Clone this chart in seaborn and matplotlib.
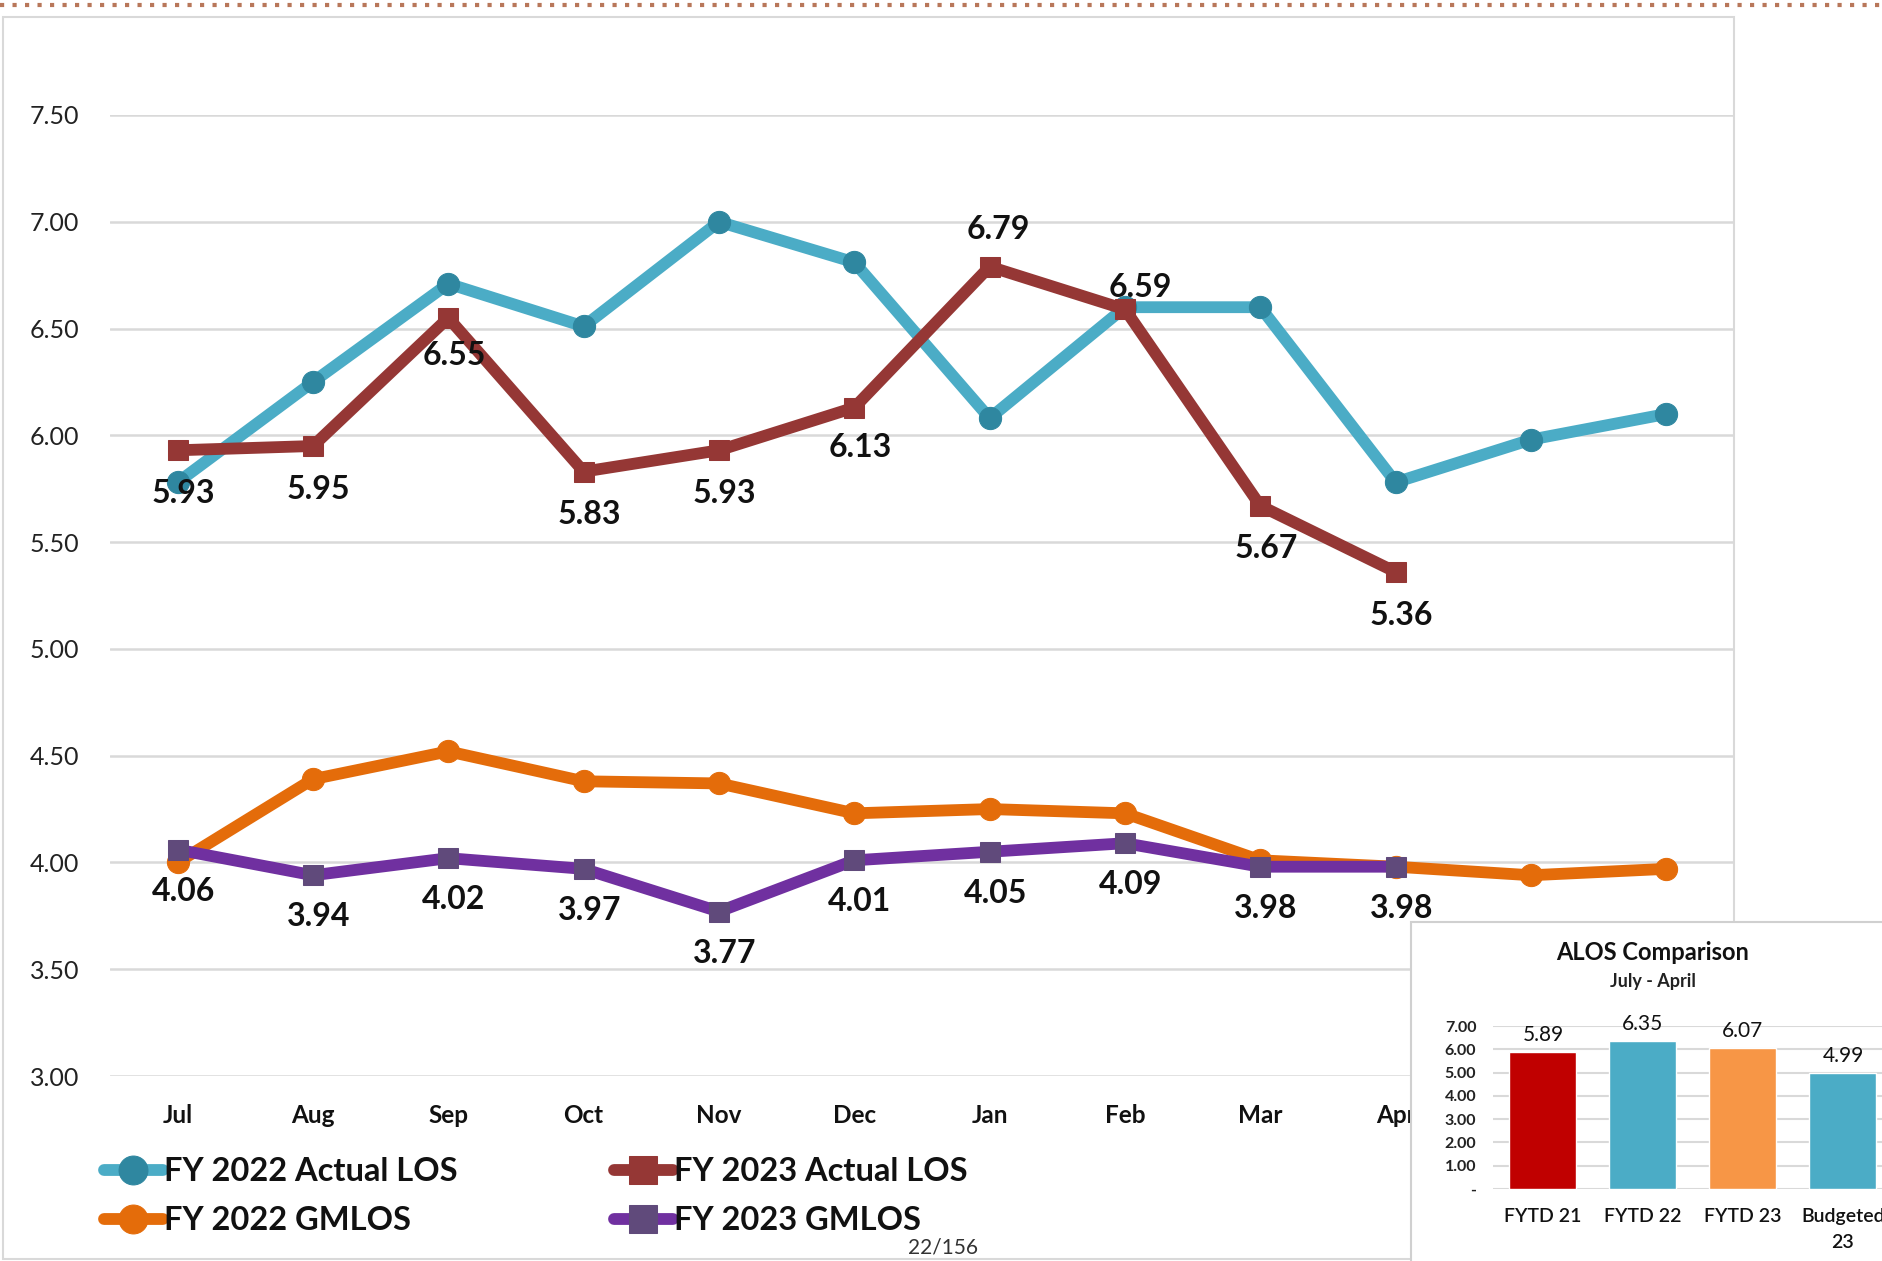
import numpy as np
import pandas as pd
import matplotlib
matplotlib.use('Agg')
import matplotlib.pyplot as plt
import seaborn as sns
from matplotlib.patches import Rectangle
from matplotlib.lines import Line2D

# ---- data ----
months = ['Jul', 'Aug', 'Sep', 'Oct', 'Nov', 'Dec', 'Jan', 'Feb', 'Mar', 'Apr', 'May', 'Jun']
fy22_actual = [5.78, 6.25, 6.71, 6.51, 7.00, 6.81, 6.08, 6.60, 6.60, 5.78, 5.98, 6.10]
fy23_actual = [5.93, 5.95, 6.55, 5.83, 5.93, 6.13, 6.79, 6.59, 5.67, 5.36]
fy22_gmlos = [4.00, 4.39, 4.52, 4.38, 4.37, 4.23, 4.25, 4.23, 4.01, 3.98, 3.94, 3.97]
fy23_gmlos = [4.06, 3.94, 4.02, 3.97, 3.77, 4.01, 4.05, 4.09, 3.98, 3.98]

alos_cats = ['FYTD 21', 'FYTD 22', 'FYTD 23', 'Budgeted\n23']
alos_vals = [5.89, 6.35, 6.07, 4.99]

# label offsets (points) for the FY 2023 actual labels: below except Jan/Feb
act_offsets = [(4, -31), (4, -31), (4, -27), (4, -31), (4, -31), (4, -29),
               (6, 27), (11, 16), (4, -31), (4, -31)]

sns.set_theme(style='white')
plt.rcParams['font.family'] = ['Lato', 'DejaVu Sans']

W, H = 1883, 1261
fig = plt.figure(figsize=(W / 100, H / 100), dpi=100)

def fx(px):
    return px / W

def fy(py):
    return 1 - py / H

# outer frame of the chart + dotted rule at the very top
fig.add_artist(Rectangle((fx(3), fy(1259)), fx(1734) - fx(3), fy(17) - fy(1259),
                         transform=fig.transFigure, fill=False, ec='#D9D9D9', lw=1.5, zorder=-1))
fig.add_artist(Line2D([0, 1], [fy(5), fy(5)], transform=fig.transFigure,
                      color='#B8775A', lw=3, ls=(0, (1, 2)), zorder=1))

ax = fig.add_axes([fx(110), fy(1076), fx(1734) - fx(110), fy(115) - fy(1076)])
ax.set_facecolor('none')

c_cyan, c_cyan_m = '#4BACC6', '#2F87A0'
c_red = '#953735'
c_orange = '#E46C0A'
c_purple, c_purple_m = '#7030A0', '#604A7B'

sns.lineplot(x=months, y=fy22_actual, ax=ax, sort=False, color=c_cyan, lw=8.5,
             marker='o', markersize=16, markerfacecolor=c_cyan_m, markeredgecolor=c_cyan_m,
             zorder=3)
sns.lineplot(x=months[:len(fy23_actual)], y=fy23_actual, ax=ax, sort=False, color=c_red, lw=8.5,
             marker='s', markersize=15, markerfacecolor=c_red, markeredgecolor=c_red, zorder=4)
sns.lineplot(x=months, y=fy22_gmlos, ax=ax, sort=False, color=c_orange, lw=8.5,
             marker='o', markersize=16, markerfacecolor=c_orange, markeredgecolor=c_orange,
             zorder=3)
sns.lineplot(x=months[:len(fy23_gmlos)], y=fy23_gmlos, ax=ax, sort=False, color=c_purple, lw=8.5,
             marker='s', markersize=15, markerfacecolor=c_purple_m, markeredgecolor=c_purple_m,
             zorder=4)

ax.set_xlim(-0.5, 11.5)
ax.set_ylim(3, 7.5)
ax.set_yticks(np.arange(3, 7.51, 0.5))
ax.set_yticklabels([f'{v:.2f}' for v in np.arange(3, 7.51, 0.5)], fontsize=18, color='#222222')
ax.set_xticks(range(len(months)))
ax.set_xticklabels(months, fontsize=17.5, fontweight='bold', color='#111111')
ax.tick_params(axis='y', length=0, pad=22)
ax.tick_params(axis='x', length=0, pad=20)
ax.set_xlabel('')
ax.set_ylabel('')
ax.grid(axis='y', color='#D9D9D9', lw=1.8)
ax.grid(axis='x', visible=False)
for s in ax.spines.values():
    s.set_visible(False)

for i, v in enumerate(fy23_actual):
    dx, dy = act_offsets[i]
    ax.annotate(f'{v:.2f}', xy=(i, v), xytext=(dx, dy), textcoords='offset points',
                ha='center', va='center', fontsize=23, fontweight='bold', color='#111111',
                zorder=6)
for i, v in enumerate(fy23_gmlos):
    ax.annotate(f'{v:.2f}', xy=(i, v), xytext=(4, -30), textcoords='offset points',
                ha='center', va='center', fontsize=23, fontweight='bold', color='#111111',
                zorder=6)

lines = ax.lines
names = ['FY 2022 Actual LOS', 'FY 2023 Actual LOS', 'FY 2022 GMLOS', 'FY 2023 GMLOS']
leg_kw = dict(loc='upper left', frameon=False, borderaxespad=0, borderpad=0,
              handlelength=1.8, handletextpad=0.05, labelspacing=0.62, markerscale=1.3,
              prop={'size': 23.5, 'weight': 'bold'})
leg1 = fig.legend([lines[0], lines[2]], [names[0], names[2]],
                  bbox_to_anchor=(fx(104), fy(1157)), **leg_kw)
leg2 = fig.legend([lines[1], lines[3]], [names[1], names[3]],
                  bbox_to_anchor=(fx(614), fy(1157)), **leg_kw)
for lg in (leg1, leg2):
    for t in lg.get_texts():
        t.set_color('#111111')

# page number at the bottom edge
fig.text(fx(943), fy(1238), '22/156', ha='center', va='top', fontsize=15, color='#333333')

# ---- inset: ALOS comparison ----
fig.add_artist(Rectangle((fx(1411), fy(1265)), fx(1890) - fx(1411), fy(922) - fy(1265),
                         transform=fig.transFigure, fc='white', ec='#D0D0D0', lw=1.5, zorder=1))
ax2 = fig.add_axes([fx(1493), fy(1189), fx(1893) - fx(1493), fy(1026) - fy(1189)], zorder=2)
ax2.set_facecolor('none')
bar_colors = ['#C00000', '#4BACC6', '#F79646', '#4BACC6']
sns.barplot(x=alos_cats, y=alos_vals, hue=alos_cats, palette=bar_colors, legend=False,
            width=0.67, ax=ax2, saturation=1, zorder=3)
ax2.set_xlim(-0.5, 3.5)
ax2.set_ylim(0, 7)
ax2.set_yticks(range(8))
ax2.set_yticklabels(['-'] + [f'{v:.2f}' for v in range(1, 8)], fontsize=11.5,
                    fontweight='bold', color='#222222')
ax2.tick_params(axis='y', length=0, pad=12)
ax2.tick_params(axis='x', length=0, pad=14, labelsize=14, colors='#111111')
ax2.grid(axis='y', color='#D9D9D9', lw=1.5)
ax2.set_axisbelow(True)
for s in ax2.spines.values():
    s.set_visible(False)
for cont in ax2.containers:
    ax2.bar_label(cont, fmt='%.2f', padding=5, fontsize=15, color='#111111')
for t in ax2.get_xticklabels():
    t.set_linespacing(1.6)
    t.set_fontweight('semibold')

fig.text(fx(1653), fy(953), 'ALOS Comparison', ha='center', va='center',
         fontsize=17, fontweight='bold', color='#111111', zorder=3)
fig.text(fx(1653), fy(982), 'July - April', ha='center', va='center',
         fontsize=13, fontweight='bold', color='#222222', zorder=3)

fig.savefig('out.png', dpi=100)
